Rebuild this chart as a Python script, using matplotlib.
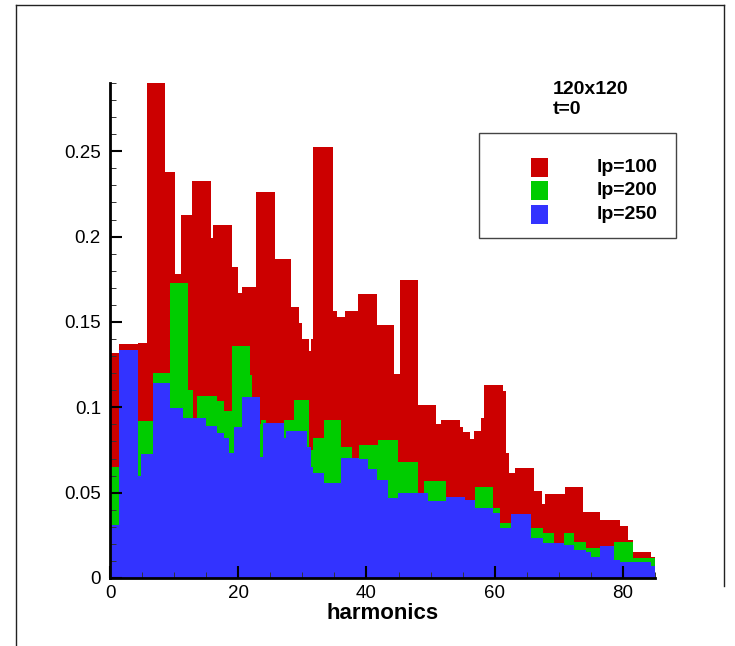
import matplotlib
matplotlib.use('Agg')
import matplotlib.pyplot as plt
from matplotlib.patches import Rectangle
from matplotlib.lines import Line2D
from matplotlib.ticker import MultipleLocator, FixedLocator, FuncFormatter

plt.rcParams['font.family'] = ['Liberation Sans', 'DejaVu Sans']

# lp=100 (red): bin edges along harmonics axis and bar heights
red_edges = [0, 1.4, 4.4, 5.8, 8.6, 10.1, 11.0, 12.8, 15.8, 16.1,
             19.0, 20.0, 20.65, 22.8, 25.8, 28.3, 29.5, 30.0, 31.0, 31.3,
             31.7, 34.8, 35.4, 36.6, 38.7, 41.6, 44.3, 45.2, 48.1, 50.9,
             51.7, 54.6, 55.1, 56.1, 56.8, 57.9, 58.3, 61.3, 61.8, 62.3,
             63.1, 66.1, 67.4, 67.9, 70.9, 73.8, 76.4, 79.5, 80.8, 81.6,
             84.3, 85.0]
red_vals = [0.132, 0.137, 0.1376, 0.30, 0.238, 0.178, 0.2127, 0.2326, 0.199, 0.207,
            0.182, 0.1667, 0.1706, 0.2264, 0.1866, 0.159, 0.1495, 0.140, 0.133, 0.140,
            0.2523, 0.1563, 0.153, 0.1567, 0.1661, 0.1482, 0.1194, 0.1745, 0.1013, 0.0904,
            0.0927, 0.0884, 0.0853, 0.0814, 0.0863, 0.0937, 0.1129, 0.1093, 0.0732, 0.0614,
            0.0644, 0.0507, 0.0434, 0.0491, 0.0536, 0.0385, 0.034, 0.0305, 0.022, 0.0155,
            0.0125]

# lp=200 (green)
green_edges = [0, 1.4, 4.4, 6.7, 9.3, 12.2, 13.0, 13.6, 16.7, 17.8,
               19.0, 21.8, 22.2, 23.5, 24.3, 27.1, 28.7, 31.1, 31.6, 33.4,
               36.0, 37.7, 38.9, 41.8, 44.9, 48.1, 49.0, 52.4, 56.9, 59.7,
               60.9, 62.6, 65.7, 67.6, 69.2, 70.8, 72.4, 74.2, 76.4, 78.6,
               81.5, 85.0]
green_vals = [0.0653, 0.12, 0.0917, 0.1201, 0.173, 0.1099, 0.09, 0.1064, 0.1035, 0.0976,
              0.1357, 0.119, 0.09, 0.0927, 0.085, 0.0927, 0.1045, 0.0751, 0.082, 0.0923,
              0.077, 0.065, 0.078, 0.0806, 0.068, 0.045, 0.0567, 0.04, 0.0532, 0.041,
              0.032, 0.03, 0.0292, 0.0266, 0.0203, 0.0262, 0.0213, 0.0178, 0.015, 0.0213,
              0.0115]

# lp=250 (blue)
blue_edges = [0, 1.4, 4.4, 4.8, 6.7, 9.3, 11.35, 14.9, 16.7, 17.8,
              18.6, 19.4, 20.6, 23.4, 23.8, 27.1, 27.4, 30.8, 31.3, 31.6,
              33.4, 36.0, 38.9, 40.3, 41.6, 43.4, 44.9, 48.1, 49.6, 52.4,
              55.3, 56.9, 59.7, 60.9, 62.6, 65.7, 67.6, 69.2, 70.8, 72.4,
              74.2, 75.0, 76.4, 78.6, 79.6, 84.3, 85.0]
blue_vals = [0.031, 0.1334, 0.0595, 0.0728, 0.1142, 0.0996, 0.0937, 0.0888, 0.085, 0.082,
             0.0733, 0.0884, 0.106, 0.0707, 0.0908, 0.082, 0.0859, 0.077, 0.0653, 0.0614,
             0.0556, 0.0702, 0.070, 0.0638, 0.0575, 0.0466, 0.0497, 0.050, 0.0454, 0.0477,
             0.0458, 0.0409, 0.038, 0.0292, 0.0376, 0.0233, 0.0207, 0.0203, 0.0194, 0.0164,
             0.0155, 0.0125, 0.019, 0.0106, 0.0095, 0.007]

series = [
    ('lp=100', red_edges, red_vals, '#cc0000'),
    ('lp=200', green_edges, green_vals, '#00cc00'),
    ('lp=250', blue_edges, blue_vals, '#3333ff'),
]

x_major = [0, 20, 40, 60, 80]
y_major = [0, 0.05, 0.1, 0.15, 0.2, 0.25]

W, H = 735, 646
fig = plt.figure(figsize=(W / 100, H / 100), dpi=100)
ax = fig.add_axes([110 / W, 1 - 578 / H, 545 / W, 495 / H])

for name, edges, vals, col in series:
    ax.stairs(vals, edges, fill=True, color=col, linewidth=0, label=name)

ax.set_xlim(0, 85)
ax.set_ylim(0, 0.29)

for s in ['top', 'right']:
    ax.spines[s].set_visible(False)
for s in ['left', 'bottom']:
    ax.spines[s].set_linewidth(2)
    ax.spines[s].set_zorder(5)

ax.xaxis.set_major_locator(FixedLocator(x_major))
ax.xaxis.set_minor_locator(MultipleLocator(5))
ax.yaxis.set_major_locator(FixedLocator(y_major))
ax.yaxis.set_minor_locator(MultipleLocator(0.01))
ax.yaxis.set_major_formatter(FuncFormatter(lambda v, p: '%g' % v))
ax.tick_params(which='major', direction='in', length=8.5, width=1.5,
               labelsize=13.5, color='black')
ax.tick_params(which='minor', direction='in', length=4.5, width=0.7, color='#333333')
ax.tick_params(axis='y', which='major', pad=6.5)
ax.tick_params(axis='x', which='major', pad=5)
for t in ax.get_xticklines() + ax.get_yticklines():
    t.set_zorder(6)

ax.set_xlabel('harmonics', fontsize=16, fontweight='bold', labelpad=1)

# annotation text
fig.text(553 / W, 1 - 90 / H, '120x120', fontsize=14, fontweight='bold',
         va='center', ha='left')
fig.text(553 / W, 1 - 110 / H, 't=0', fontsize=14, fontweight='bold',
         va='center', ha='left')

# legend box
fig.patches.append(Rectangle((479 / W, 1 - 238 / H), 197 / W, 105 / H,
                             transform=fig.transFigure, fill=False,
                             edgecolor='#444444', linewidth=1))
for i, (name, edges, vals, col) in enumerate(series):
    top = 158 + i * 23.3
    fig.patches.append(Rectangle((531 / W, 1 - (top + 19) / H), 17 / W, 19 / H,
                                 transform=fig.transFigure, facecolor=col,
                                 edgecolor='none'))
    fig.text(597 / W, 1 - (top + 9.5) / H, name, fontsize=14, fontweight='bold',
             va='center', ha='left')

# outer frame (left and top edges of the page border)
frame_kw = dict(transform=fig.transFigure, color='#222222', linewidth=1)
fig.lines.append(Line2D([16 / W, 16 / W], [0, 1 - 5 / H], **frame_kw))
fig.lines.append(Line2D([16 / W, 724 / W], [1 - 5 / H, 1 - 5 / H], **frame_kw))
fig.lines.append(Line2D([724 / W, 724 / W], [1 - 5 / H, 1 - 586 / H], **frame_kw))

fig.savefig('out.png', dpi=100)
